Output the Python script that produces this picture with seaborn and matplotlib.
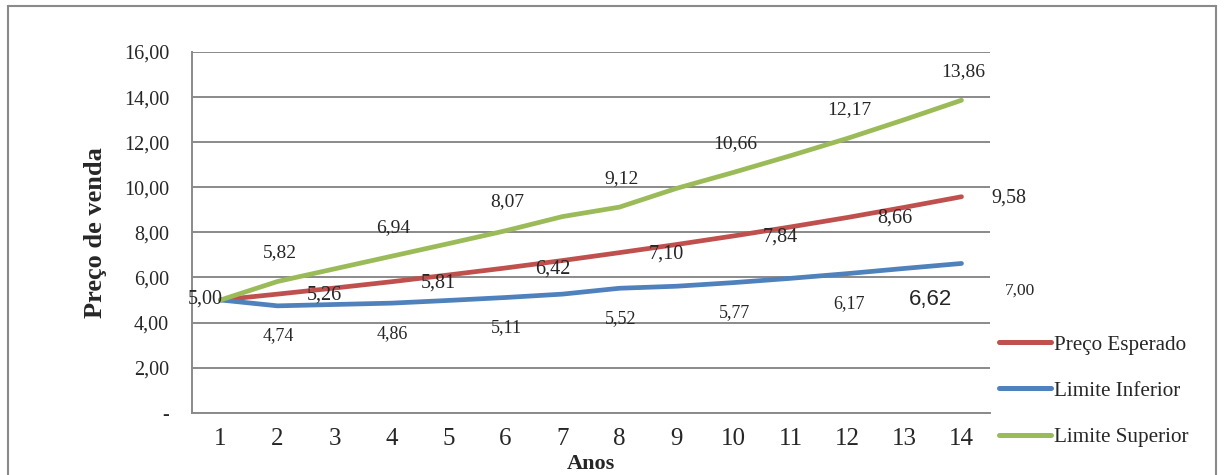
import matplotlib
matplotlib.use("Agg")
import matplotlib.pyplot as plt
import seaborn as sns
import pandas as pd
import numpy as np
from matplotlib.patches import Rectangle
from matplotlib.lines import Line2D

# ---- data ----
anos = list(range(1, 15))
preco_esperado = [5.00, 5.26, 5.53, 5.81, 6.11, 6.42, 6.75, 7.10, 7.46, 7.84, 8.24, 8.66, 9.11, 9.58]
limite_inferior = [5.00, 4.74, 4.80, 4.86, 4.98, 5.11, 5.26, 5.52, 5.61, 5.77, 5.96, 6.17, 6.40, 6.62]
limite_superior = [5.00, 5.82, 6.38, 6.94, 7.50, 8.07, 8.70, 9.12, 9.95, 10.66, 11.40, 12.17, 13.00, 13.86]
series_names = ["Preço Esperado", "Limite Inferior", "Limite Superior"]
y_ticks = [0, 2, 4, 6, 8, 10, 12, 14, 16]
y_tick_labels = ["-", "2,00", "4,00", "6,00", "8,00", "10,00", "12,00", "14,00", "16,00"]
labelled_years = [2, 4, 6, 8, 10, 12, 14]
extra_label = "7,00"

colors = {"Preço Esperado": "#C0504D", "Limite Inferior": "#4F81BD", "Limite Superior": "#9BBB59"}

df = pd.DataFrame({
    "Anos": anos * 3,
    "valor": preco_esperado + limite_inferior + limite_superior,
    "serie": [series_names[0]] * 14 + [series_names[1]] * 14 + [series_names[2]] * 14,
})

sns.set_style("white")
plt.rcParams["font.family"] = ["Liberation Serif", "DejaVu Serif"]

W, H = 1224, 475
fig = plt.figure(figsize=(W / 100, H / 100), dpi=100)
ax = fig.add_axes([192 / W, (H - 412.7) / H, (990 - 192) / W, (412.7 - 52) / H])

sns.lineplot(data=df, x="Anos", y="valor", hue="serie", palette=colors,
             hue_order=series_names, linewidth=3.4, ax=ax, legend=False,
             solid_capstyle="round")

ax.set_xlim(0.5, 14.5)
ax.set_ylim(0, 16)

gray = "#8a8a8a"
ax.yaxis.grid(True, color=gray, linewidth=1.4)
ax.set_axisbelow(True)
for s in ["top", "right"]:
    ax.spines[s].set_visible(False)
for s in ["left", "bottom"]:
    ax.spines[s].set_color(gray)
    ax.spines[s].set_linewidth(1.4)

ax.set_yticks(y_ticks)
ax.set_yticklabels(y_tick_labels, fontsize=14.5)
ax.tick_params(axis="y", direction="out", length=5.5, width=1.4, color=gray, pad=11)

ax.set_xticks(np.arange(0.5, 15, 1))
ax.set_xticklabels([])
ax.set_xticks(anos, minor=True)
ax.set_xticklabels([str(a) for a in anos], minor=True, fontsize=18)
ax.tick_params(axis="x", which="major", direction="out", length=6, width=1.4, color=gray)
ax.tick_params(axis="x", which="minor", length=0, pad=11)

ax.set_xlabel("Anos", fontsize=16, fontweight="bold", labelpad=3)
ax.set_ylabel("Preço de venda", fontsize=19, fontweight="bold", labelpad=12)

# ---- data labels ----
def fmt(v):
    return f"{v:.2f}".replace(".", ",")

lab_kw = dict(textcoords="offset pixels", ha="center", va="center")
for yr in labelled_years:
    i = yr - 1
    ax.annotate(fmt(limite_superior[i]), (yr, limite_superior[i]), xytext=(2, 29), fontsize=14, **lab_kw)
    ax.annotate(fmt(preco_esperado[i]), (yr, preco_esperado[i]), xytext=(47, -1), fontsize=14.5, **lab_kw)
    if yr != 14:
        ax.annotate(fmt(limite_inferior[i]), (yr, limite_inferior[i]), xytext=(1, -30), fontsize=13, **lab_kw)
ax.annotate(fmt(limite_inferior[13]), (14, limite_inferior[13]), xytext=(-31, -36),
            fontsize=16, family=["Liberation Sans", "DejaVu Sans"], **lab_kw)
ax.annotate(fmt(preco_esperado[0]), (1, preco_esperado[0]), xytext=(-15, 1), fontsize=14.5, **lab_kw)
fig.text(1020 / W, 1 - 291 / H, extra_label, fontsize=12.5, ha="center", va="center")

# ---- legend ----
handles = [Line2D([0], [0], color=colors[n], lw=3.6, solid_capstyle="round") for n in series_names]
fig.legend(handles, series_names, loc="center left", bbox_to_anchor=(991 / W, 1 - 391 / H),
           frameon=False, fontsize=15.2, handlelength=2.45, handletextpad=0.12, labelspacing=1.25,
           borderaxespad=0)

# outer border
fig.patches.append(Rectangle((8 / W, -0.02), (1216 - 8) / W, 1.02 - 6 / H, transform=fig.transFigure,
                             fill=False, edgecolor=gray, linewidth=1.5))

fig.savefig("out.png", dpi=100)
